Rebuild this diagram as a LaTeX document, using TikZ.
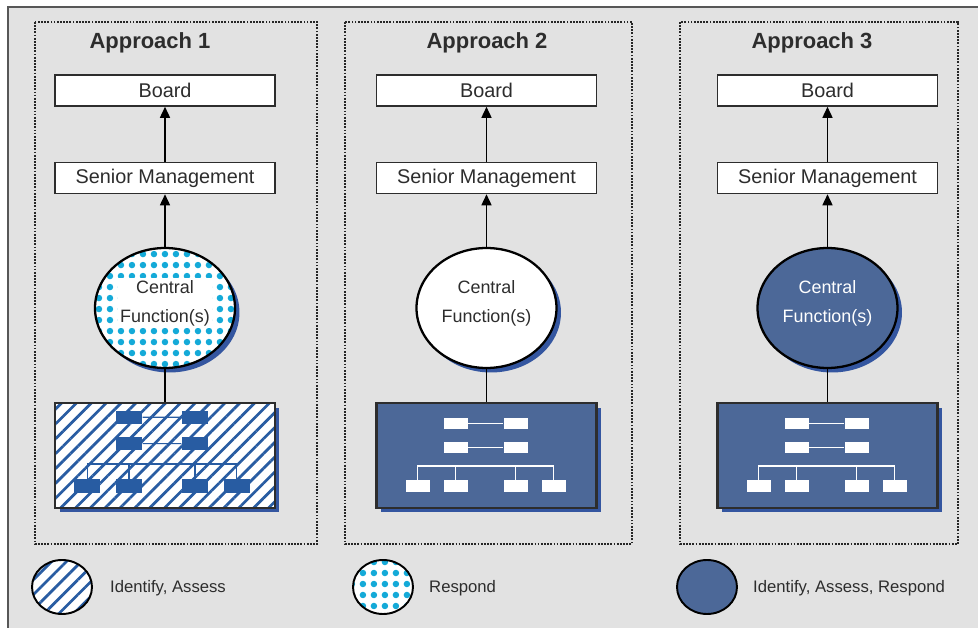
\documentclass[tikz,border=0pt]{standalone}
\usepackage{fontspec}
\setmainfont{Liberation Sans}
\usepackage{xcolor}
\definecolor{Col1}{RGB}{226,226,226}
\definecolor{Col2}{RGB}{76,104,152}
\definecolor{Col3}{RGB}{52,86,160}
\definecolor{Col4}{RGB}{40,92,162}
\definecolor{Col5}{RGB}{20,170,216}
\definecolor{Col6}{RGB}{45,45,45}
\usepackage{tikz}
\usetikzlibrary{shapes}
\usetikzlibrary{shadows}
\usetikzlibrary{patterns.meta}
\usetikzlibrary{arrows.meta}
\tikzstyle{Panel}=[draw=black!85,line width=1.3pt,dash pattern=on 1pt off 0.8pt]
\tikzstyle{Title}=[font=\fontsize{12.5}{14}\selectfont\bfseries,text=Col6]
\tikzstyle{Box}=[rectangle,draw=Col6,fill=white,line width=0.9pt,
minimum width=4.4cm,minimum height=0.62cm,inner sep=0pt,
font=\fontsize{11.3}{13}\selectfont,text=Col6]
\tikzstyle{Shade}=[drop shadow={shadow xshift=0.09cm,shadow yshift=-0.09cm,
opacity=1,fill=Col3}]
\tikzstyle{Central}=[ellipse,draw=black,line width=1.3pt,minimum width=2.8cm,
minimum height=2.4cm,inner sep=0pt,Shade]
\tikzstyle{CentralText}=[align=center,inner sep=1pt,yshift=0.1cm,
font=\fontsize{10.2}{16.5}\selectfont,text=Col6]
\tikzstyle{Unit}=[rectangle,draw=Col6,line width=1.2pt,minimum width=4.4cm,
minimum height=2.1cm,Shade]
\tikzstyle{Hatched}=[preaction={fill=white},
pattern={Lines[angle=45,distance=0.21cm,line width=0.055cm]},pattern color=Col4]
\tikzstyle{Dotted}=[preaction={fill=white},
pattern={Dots[radius=0.065cm,distance=0.22cm]},pattern color=Col5]
\tikzstyle{Edge}=[draw=black,line width=0.85pt]
\tikzstyle{Arrow}=[Edge,-{Triangle[width=0.2cm,length=0.22cm]}]
\tikzstyle{Key}=[ellipse,draw=black,line width=1.1pt,minimum width=1.2cm,
minimum height=1.08cm,inner sep=0pt]
\tikzstyle{KeyText}=[anchor=west,font=\fontsize{9.5}{11}\selectfont,text=Col6]
\tikzstyle{DarkBox}=[rectangle,fill=Col4,minimum width=0.48cm,
minimum height=0.24cm,inner sep=0pt]
\tikzstyle{DarkLine}=[draw=Col4,line width=0.6pt]
\tikzstyle{LightBox}=[rectangle,fill=white,minimum width=0.48cm,
minimum height=0.24cm,inner sep=0pt]
\tikzstyle{LightLine}=[draw=white,line width=0.8pt]
% small organisation chart inside a unit: prefix, position, scale, Dark/Light
\newcommand{\OrgChart}[4]{%
  \begin{scope}[shift={(#2)},scale=#3,transform shape]
    \node[#4Box](#1a)at(-30,-62.5){};
    \node[#4Box](#1b)at(30,-62.5){};
    \node[#4Box](#1c)at(-30,-38.5){};
    \node[#4Box](#1d)at(30,-38.5){};
    \node[#4Box](#1e)at(-68,0){};
    \node[#4Box](#1f)at(-30,0){};
    \node[#4Box](#1g)at(30,0){};
    \node[#4Box](#1h)at(68,0){};
    \coordinate(#1l)at(-68,-20);
    \coordinate(#1r)at(68,-20);
    \draw[#4Line](#1a)--(#1b);
    \draw[#4Line](#1c)--(#1d);
    \draw[#4Line](#1e.north)--(#1l)--(#1r)--(#1h.north);
    \draw[#4Line](#1f.north)--(#1f.north|-#1l);
    \draw[#4Line](#1g.north)--(#1g.north|-#1l);
  \end{scope}}

\begin{document}
\begin{tikzpicture}[x=0.02cm,y=-0.02cm]
    \useasboundingbox(0,0)rectangle(978,628);
    \fill[white](0,0)rectangle(978,628);
    \fill[Col1](8,7)rectangle(990,640);
    \draw[draw=Col6!80,line width=0.9pt](8,640)--(8,7)--(990,7);
    \draw[Panel](35,22)rectangle(317,544);
    \draw[Panel](345,22)rectangle(632,544);
    \draw[Panel](680,22)rectangle(958,544);
    \node[Title](T1)at(150,43){Approach 1};
    \node[Title](T2)at(487,43){Approach 2};
    \node[Title](T3)at(812,43){Approach 3};
    \node[Box](B1)at(165,90.5){Board};
    \node[Box](B2)at(486.5,90.5){Board};
    \node[Box](B3)at(827.5,90.5){Board};
    \node[Box](S1)at(165,178){Senior Management};
    \node[Box](S2)at(486.5,178){Senior Management};
    \node[Box](S3)at(827.5,178){Senior Management};
    \node[Central,Dotted](C1)at(165,308){};
    \node[Central,fill=white](C2)at(486.5,308){};
    \node[Central,fill=Col2](C3)at(827.5,308){};
    \node[CentralText,fill=white](C1t)at(C1){Central\\Function(s)};
    \node[CentralText](C2t)at(C2){Central\\Function(s)};
    \node[CentralText,text=white](C3t)at(C3){Central\\Function(s)};
    \node[Unit,Hatched](U1)at(165,455.5){};
    \node[Unit,fill=Col2](U2)at(486.5,455.5){};
    \node[Unit,fill=Col2](U3)at(827.5,455.5){};
    \OrgChart{o1}{162,486}{1.1}{Dark}
    \OrgChart{o2}{485.5,486}{1}{Light}
    \OrgChart{o3}{826.5,486}{1}{Light}
    \draw[Arrow](S1)--(B1);
    \draw[Arrow](S2)--(B2);
    \draw[Arrow](S3)--(B3);
    \draw[Arrow](C1)--(S1);
    \draw[Arrow](C2)--(S2);
    \draw[Arrow](C3)--(S3);
    \draw[Edge](C1)--(U1);
    \draw[Edge](C2)--(U2);
    \draw[Edge](C3)--(U3);
    \node[Key,Hatched](K1)at(62,587){};
    \node[Key,Dotted](K2)at(383,587){};
    \node[Key,fill=Col2](K3)at(707,587){};
    \node[KeyText](L1)at(104,588){Identify, Assess};
    \node[KeyText](L2)at(423,588){Respond};
    \node[KeyText](L3)at(747,588){Identify, Assess, Respond};
\end{tikzpicture}
\end{document}
